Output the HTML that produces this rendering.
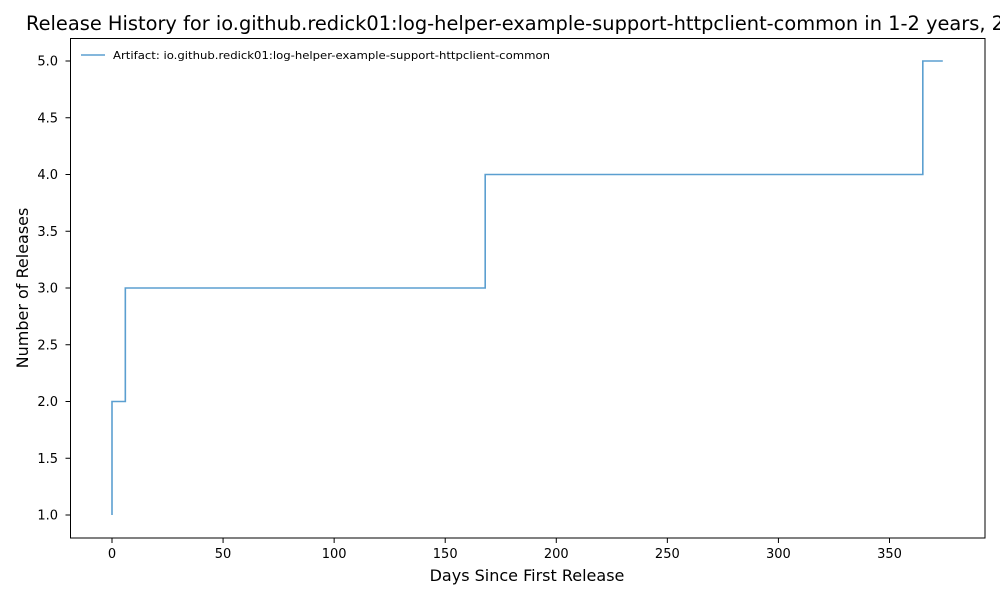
<!DOCTYPE html>
<html><head><meta charset="utf-8"><style>
html,body{margin:0;padding:0;background:#fff;}
svg{display:block;font-family:"DejaVu Sans","Liberation Sans",sans-serif;}
</style></head><body>
<svg id="chart" width="1000" height="600" viewBox="0 0 1000 600">
<text x="26" y="30" font-size="19.4" fill="#000">Release History for io.github.redick01:log-helper-example-support-httpclient-common in 1-2 years, 2</text>
<g id="axes"></g>
<path id="series" fill="none" stroke="#5b9fd0" stroke-width="1.6"></path>
<rect x="70.5" y="38.5" width="914.5" height="499.5" fill="none" stroke="#000" stroke-width="1"></rect>
<g>
<line x1="81" y1="55" x2="105" y2="55" stroke="#5b9fd0" stroke-width="1.6"></line>
<text x="113" y="59" font-size="11" textLength="437" lengthAdjust="spacingAndGlyphs">Artifact: io.github.redick01:log-helper-example-support-httpclient-common</text>
</g>
<text x="527" y="581" font-size="16" text-anchor="middle">Days Since First Release</text>
<text transform="translate(28,288) rotate(-90)" font-size="16" text-anchor="middle">Number of Releases</text>
</svg>
<script>
const days = [0, 0, 6, 168, 365, 374];
const releases = [1, 2, 3, 4, 5, 5];
const xTicks = [0, 50, 100, 150, 200, 250, 300, 350];
const yTicks = [1.0, 1.5, 2.0, 2.5, 3.0, 3.5, 4.0, 4.5, 5.0];

function xs(v){ return 112 + v * 2.2214; }
function ys(v){ return 515 - (v - 1) * 113.5; }

const NS = "http://www.w3.org/2000/svg";
const axes = document.getElementById('axes');
xTicks.forEach(t => {
  const l = document.createElementNS(NS,'line');
  l.setAttribute('x1', xs(t)); l.setAttribute('x2', xs(t));
  l.setAttribute('y1', 538); l.setAttribute('y2', 543);
  l.setAttribute('stroke','#000');
  
  
  axes.appendChild(l);
  const tx = document.createElementNS(NS,'text');
  tx.setAttribute('x', xs(t)); tx.setAttribute('y', 558);
  tx.setAttribute('font-size','13'); tx.setAttribute('text-anchor','middle');
  tx.textContent = t;
  
  
  axes.appendChild(tx);
});
yTicks.forEach(t => {
  const l = document.createElementNS(NS,'line');
  l.setAttribute('x1', 65.5); l.setAttribute('x2', 70.5);
  l.setAttribute('y1', ys(t)); l.setAttribute('y2', ys(t));
  l.setAttribute('stroke','#000');
  
  
  axes.appendChild(l);
  const tx = document.createElementNS(NS,'text');
  tx.setAttribute('x', 58); tx.setAttribute('y', ys(t) + 4.5);
  tx.setAttribute('font-size','13'); tx.setAttribute('text-anchor','end');
  tx.textContent = t.toFixed(1);
  
  
  axes.appendChild(tx);
});
let d = 'M' + xs(days[0]) + ',' + ys(releases[0]);
for (let i = 1; i < days.length; i++) {
  d += ' H' + xs(days[i]) + ' V' + ys(releases[i]);
}
document.getElementById('series').setAttribute('d', d);
</script>
</body></html>
